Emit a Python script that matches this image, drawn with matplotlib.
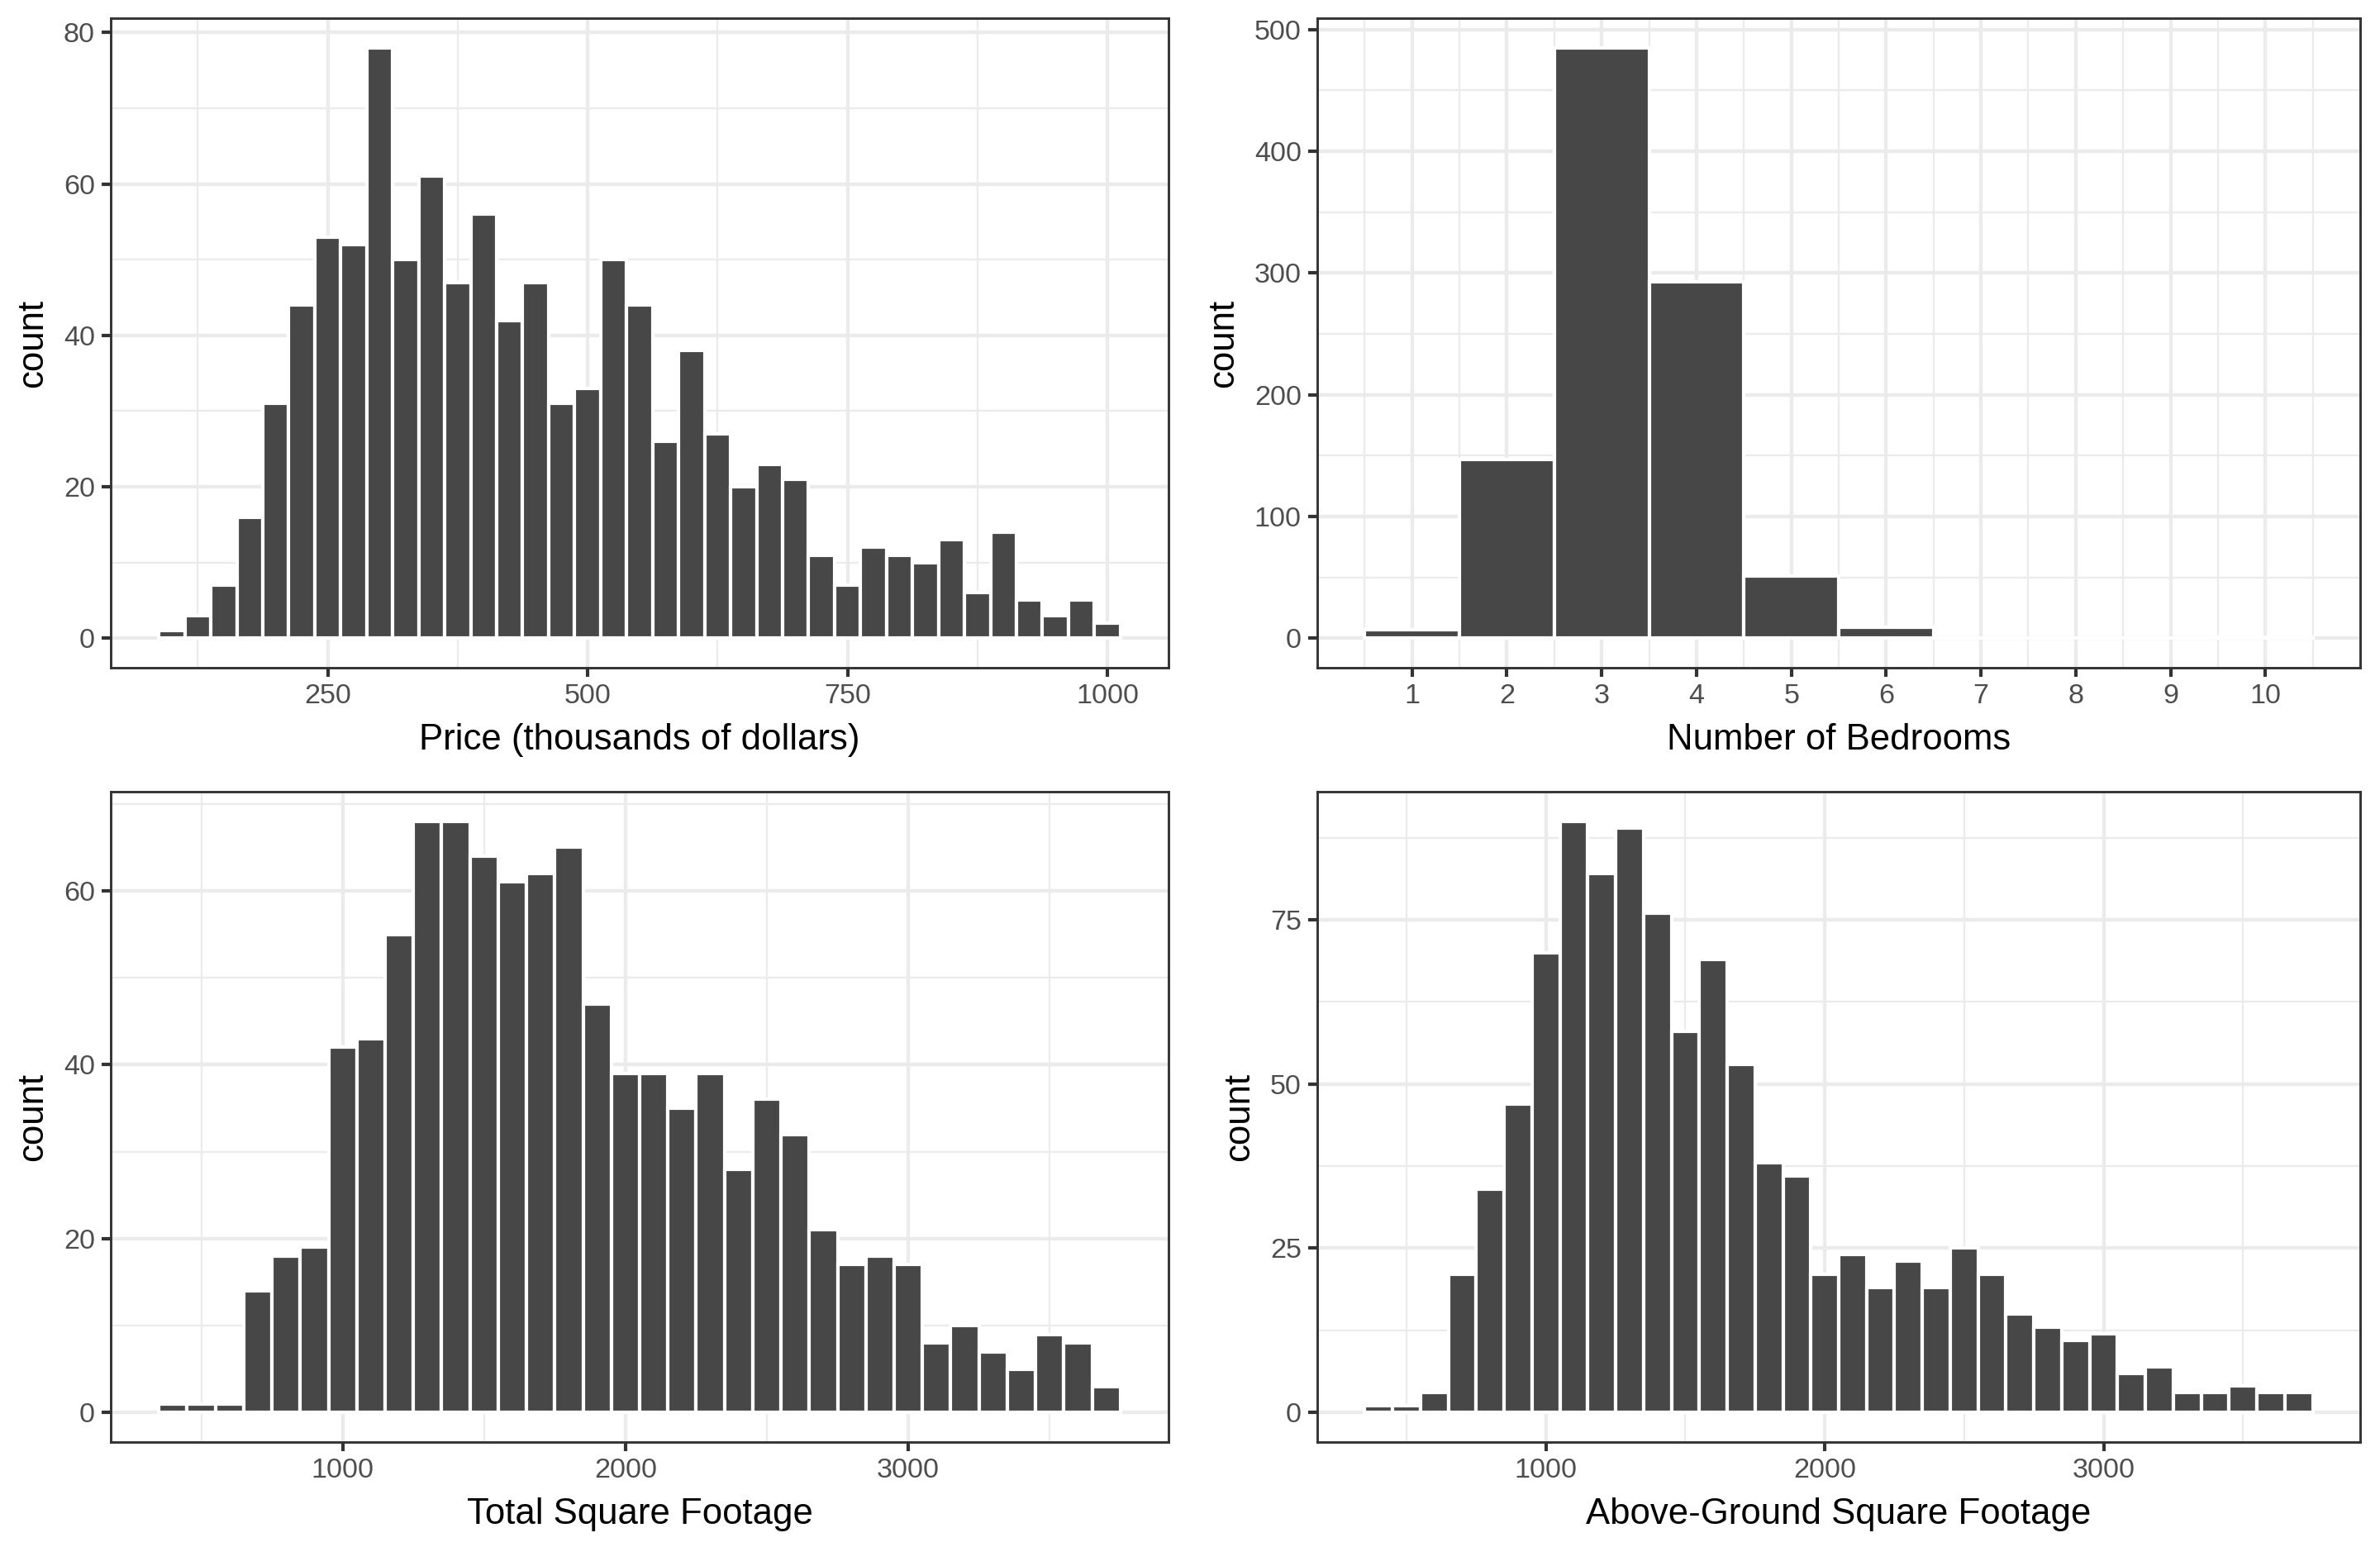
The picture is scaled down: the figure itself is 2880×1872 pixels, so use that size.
import numpy as np
import matplotlib
matplotlib.use("Agg")
import matplotlib.pyplot as plt

plt.rcParams['font.family'] = ['Liberation Sans', 'DejaVu Sans']

# price histogram, binwidth 25 (thousands of dollars)
price_centers = np.arange(100, 1001, 25)
price_counts = [1, 3, 7, 16, 31, 44, 53, 52, 78, 50, 61, 47, 56, 42, 47, 31, 33, 50, 44,
                26, 38, 27, 20, 23, 21, 11, 7, 12, 11, 10, 13, 6, 14, 5, 3, 5, 2]

# bedrooms, binwidth 1
bed_centers = np.arange(1, 11)
bed_counts = [7, 147, 485, 293, 51, 9, 0, 0, 0, 1]

# total square footage, binwidth 100
total_centers = np.arange(400, 3701, 100)
total_counts = [1, 1, 1, 14, 18, 19, 42, 43, 55, 68, 68, 64, 61, 62, 65, 47, 39, 39, 35,
                39, 28, 36, 32, 21, 17, 18, 17, 8, 10, 7, 5, 9, 8, 3]

# above-ground square footage, binwidth 100
above_centers = np.arange(400, 3701, 100)
above_counts = [1, 1, 3, 21, 34, 47, 70, 90, 82, 89, 76, 58, 69, 53, 38, 36, 21, 24, 19,
                23, 19, 25, 21, 15, 13, 11, 12, 6, 7, 3, 3, 4, 3, 3]

BAR = "#474747"
GRID = "#EBEBEB"
DARK = "#333333"
LW = 1.0


def expand(lo, hi, f=0.05):
    d = (hi - lo) * f
    return lo - d, hi + d


def panel(ax, centers, counts, bw, xmajor, ymajor, xlabel):
    centers = np.asarray(centers, dtype=float)
    ax.bar(centers, counts, width=bw, color=BAR, edgecolor="white", linewidth=LW,
           zorder=3)
    xlo, xhi = expand(centers[0] - bw / 2, centers[-1] + bw / 2)
    ylo, yhi = expand(0, max(counts))
    ax.set_xlim(xlo, xhi)
    ax.set_ylim(ylo, yhi)

    ax.set_xticks(xmajor)
    ax.set_yticks(ymajor)
    xs = xmajor[1] - xmajor[0]
    ys = ymajor[1] - ymajor[0]
    xminor = [v for v in np.arange(xmajor[0] - xs / 2, xmajor[-1] + xs, xs) if xlo < v < xhi]
    yminor = [v for v in np.arange(ymajor[0] - ys / 2, ymajor[-1] + ys, ys) if ylo < v < yhi]
    for v in xminor:
        ax.axvline(v, color=GRID, lw=0.55, zorder=1)
    for v in yminor:
        ax.axhline(v, color=GRID, lw=0.55, zorder=1)
    ax.grid(True, which="major", color=GRID, lw=1.05, zorder=2)
    ax.set_axisbelow(True)

    for s in ax.spines.values():
        s.set_color(DARK)
        s.set_linewidth(0.7)
    ax.tick_params(axis="both", colors=DARK, labelcolor="#4D4D4D", labelsize=8.2,
                   length=2.6, width=1.0, pad=2.0)
    ax.set_xlabel(xlabel, fontsize=10.5, color="black", labelpad=4)
    ax.set_ylabel("count", fontsize=10.5, color="black", labelpad=4)


fig = plt.figure(figsize=(9.6, 6.24), dpi=300)
W, H = 2880, 1872


def box(l, r, t, b):
    return [l / W, 1 - b / H, (r - l) / W, (b - t) / H]


ax1 = fig.add_axes(box(134, 1414, 22, 808))
ax2 = fig.add_axes(box(1594, 2856, 22, 808))
ax3 = fig.add_axes(box(134, 1414, 958, 1745))
ax4 = fig.add_axes(box(1594, 2856, 958, 1745))

panel(ax1, price_centers, price_counts, 25, [250, 500, 750, 1000], [0, 20, 40, 60, 80],
      "Price (thousands of dollars)")
panel(ax2, bed_centers, bed_counts, 1, list(range(1, 11)), [0, 100, 200, 300, 400, 500],
      "Number of Bedrooms")
panel(ax3, total_centers, total_counts, 100, [1000, 2000, 3000], [0, 20, 40, 60],
      "Total Square Footage")
panel(ax4, above_centers, above_counts, 100, [1000, 2000, 3000], [0, 25, 50, 75],
      "Above-Ground Square Footage")

fig.savefig("out.png", dpi=300, facecolor="white")
